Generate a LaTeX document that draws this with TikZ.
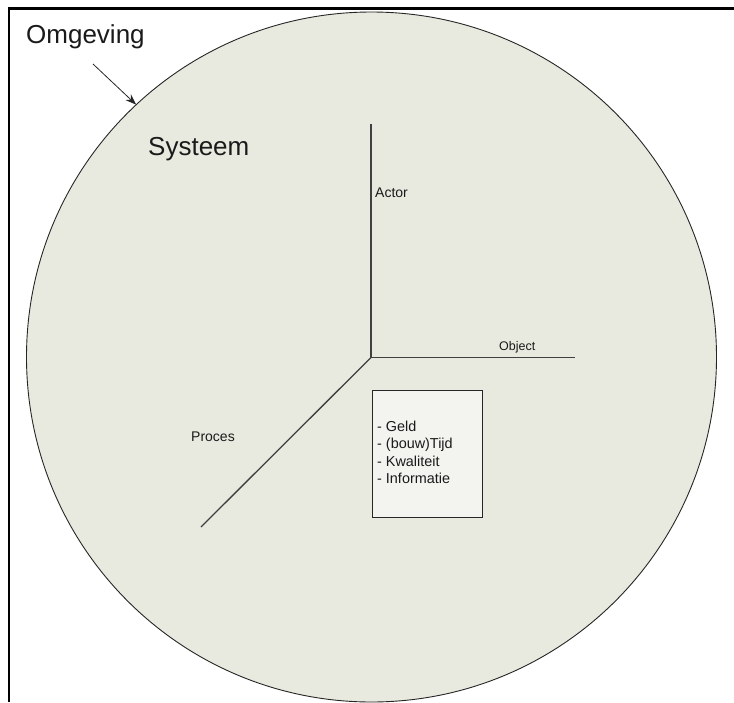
\documentclass[tikz,border=0pt]{standalone}
\usepackage{fontspec}
\setmainfont{Liberation Sans}
\usetikzlibrary{arrows.meta}
\definecolor{sysfill}{HTML}{E9EADF}
\definecolor{boxfill}{HTML}{F3F4EF}
\definecolor{axisgray}{HTML}{404040}
\definecolor{inkgray}{HTML}{1A1A1A}
\tikzset{
  frameline/.style={line width=2.6pt, black},
  systemcircle/.style={circle, draw=black!85, line width=0.9pt, fill=sysfill,
    minimum size=690pt, inner sep=0pt, outer sep=0pt},
  axisline/.style={draw=axisgray, line width=1.3pt},
  biglabel/.style={font=\fontsize{26}{30}\selectfont, text=inkgray, inner sep=0pt},
  smalllabel/.style={font=\fontsize{14}{16}\selectfont, text=inkgray, inner sep=0pt},
  aspectbox/.style={draw=black!85, line width=0.9pt, fill=boxfill,
    minimum width=110pt, minimum height=127pt, inner sep=0pt},
  listtext/.style={font=\fontsize{14.4}{17.5}\selectfont, text=inkgray, inner sep=0pt,
    align=left},
  pointer/.style={-{Stealth[length=11pt,width=8pt]}, line width=0.8pt, black!85}
}
\begin{document}
\begin{tikzpicture}[x=1pt,y=-1pt]
  \useasboundingbox (0,0) rectangle (734,702);

  % environment frame (top and left edges)
  \coordinate (frameTR) at (734,8.7);
  \coordinate (frameTL) at (9,8.7);
  \coordinate (frameBL) at (9,702);
  \draw[frameline] (frameTR) -- (frameTL) -- (frameBL);

  % the system
  \node[systemcircle] (sys) at (371.5,357) {};

  % three axes from the origin
  \coordinate (origin) at (371,357.5);
  \coordinate (actorEnd) at (371,124);
  \coordinate (objectEnd) at (575,357.5);
  \coordinate (procesEnd) at (201,527);
  \draw[axisline] (actorEnd) -- (origin) -- (objectEnd);
  \draw[axisline] (origin) -- (procesEnd);

  % labels
  \node[biglabel, anchor=base west] (omg) at (26,43.5) {Omgeving};
  \node[biglabel, anchor=base west] (systeem) at (148,155) {Systeem};
  \node[smalllabel, anchor=base west] (actor) at (375,197) {Actor};
  \node[smalllabel, anchor=base west, font=\fontsize{12.5}{15}\selectfont]
    (object) at (499,350.5) {Object};
  \node[smalllabel, anchor=base west] (proces) at (191,441) {Proces};

  % pointer from the environment to the system boundary
  \coordinate (pointerTail) at (93,64);
  \draw[pointer] (pointerTail) -- (sys.133);

  % aspects box
  \node[aspectbox, anchor=north west] (aspects) at (371.5,390) {};
  \node[listtext, anchor=base west] (list) at (377,483.5)
    {- Geld\\- (bouw)Tijd\\- Kwaliteit\\- Informatie};
\end{tikzpicture}
\end{document}
